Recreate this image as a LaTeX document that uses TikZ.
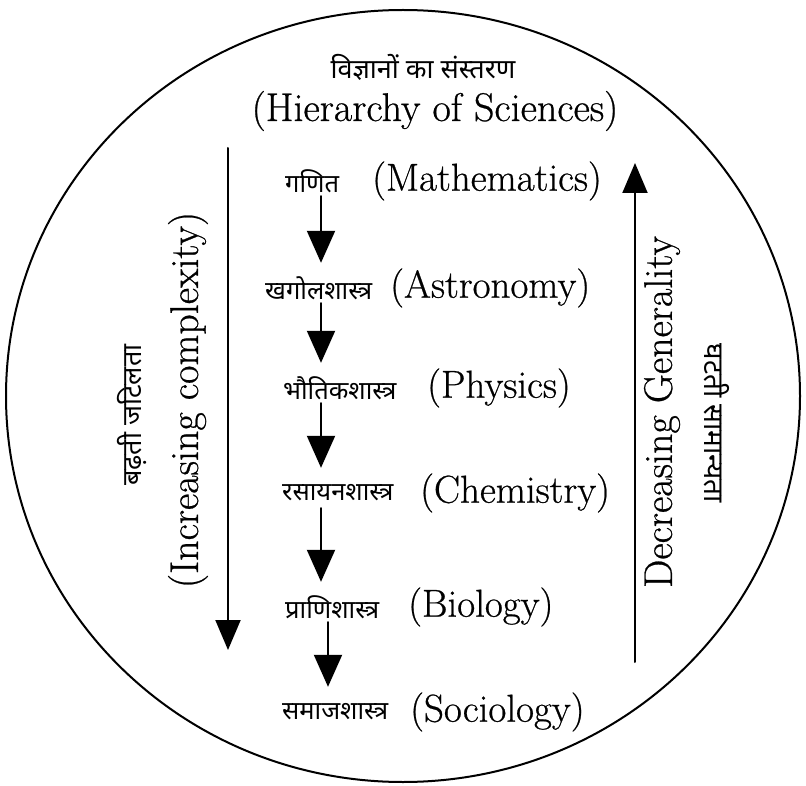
\documentclass[tikz,border=0pt]{standalone}
\usepackage{fontspec}
\newfontfamily\hindi[Script=Devanagari]{Noto Sans}
\newfontfamily\engfont{Latin Modern Roman}[FakeBold=0.6]
\usetikzlibrary{arrows.meta}

\begin{document}
\begin{tikzpicture}[x=1pt,y=-1pt,>=Latex,line cap=round,line join=round]
\useasboundingbox[fill=white] (0,0) rectangle (806,786);
\tikzset{hin/.style={font=\hindi\fontsize{25.5}{30}\selectfont,anchor=west,inner sep=0pt,minimum height=30pt},eng/.style={font=\engfont\fontsize{39}{44}\selectfont,anchor=west,inner sep=0pt},bigarrow/.style={draw=black,line width=2pt,-{Triangle[length=30pt,width=25pt]}},smallarrow/.style={draw=black,line width=2pt,shorten >=10pt,-{Triangle[length=32pt,width=28pt]}}}
\draw[line width=2pt] (403,396) ellipse [x radius=397, y radius=386];
\node[inner sep=0pt,font=\hindi\fontsize{27}{30}\selectfont] (titlehi) at (423,67) {विज्ञानों का संस्तरण};
\node[inner sep=0pt,font=\engfont\fontsize{40}{46}\selectfont] (titleen) at (435,111) {(Hierarchy of Sciences)};
\node[hin] (hmath) at (285,181) {गणित}; \node[eng] (emath) at (372,181) {(Mathematics)};
\node[hin] (hastro) at (265,288) {खगोलशास्त्र}; \node[eng] (eastro) at (390,288) {(Astronomy)};
\node[hin] (hphys) at (283,388) {भौतिकशास्त्र}; \node[eng] (ephys) at (427,388) {(Physics)};
\node[hin] (hchem) at (282,493) {रसायनशास्त्र}; \node[eng] (echem) at (420,493) {(Chemistry)};
\node[hin] (hbio) at (285,607) {प्राणिशास्त्र}; \node[eng] (ebio) at (408,607) {(Biology)};
\node[hin] (hsoc) at (282,712) {समाजशास्त्र}; \node[eng] (esoc) at (410,712) {(Sociology)};
\coordinate (colA) at (321,0); \coordinate (colB) at (328,0);
\draw[smallarrow] (hmath.south -| colA) -- (hastro.north -| colA);
\draw[smallarrow] (hastro.south -| colA) -- (hphys.north -| colA);
\draw[smallarrow] (hphys.south -| colA) -- (hchem.north -| colA);
\draw[smallarrow] (hchem.south -| colA) -- (hbio.north -| colA);
\draw[smallarrow] (hbio.south -| colB) -- (hsoc.north -| colB);
\coordinate (ltop) at (228,148); \coordinate (lbot) at (228,650);
\draw[bigarrow] (ltop) -- (lbot);
\coordinate (rbot) at (635,662); \coordinate (rtop) at (635,163);
\draw[bigarrow] (rbot) -- (rtop);
\node[rotate=90,font=\engfont\fontsize{40}{46}\selectfont] (incr) at (188,400) {(Increasing complexity)};
\node[rotate=90,font=\engfont\fontsize{40}{46}\selectfont] (decr) at (662,412) {Decreasing Generality};
\node[rotate=90,font=\hindi\fontsize{27}{30}\selectfont] (badh) at (132,415) {बढ़ती जटिलता};
\node[rotate=-90,font=\hindi\fontsize{28}{32}\selectfont] (ghat) at (717,423) {घटती सामान्यता};
\end{tikzpicture}
\end{document}
